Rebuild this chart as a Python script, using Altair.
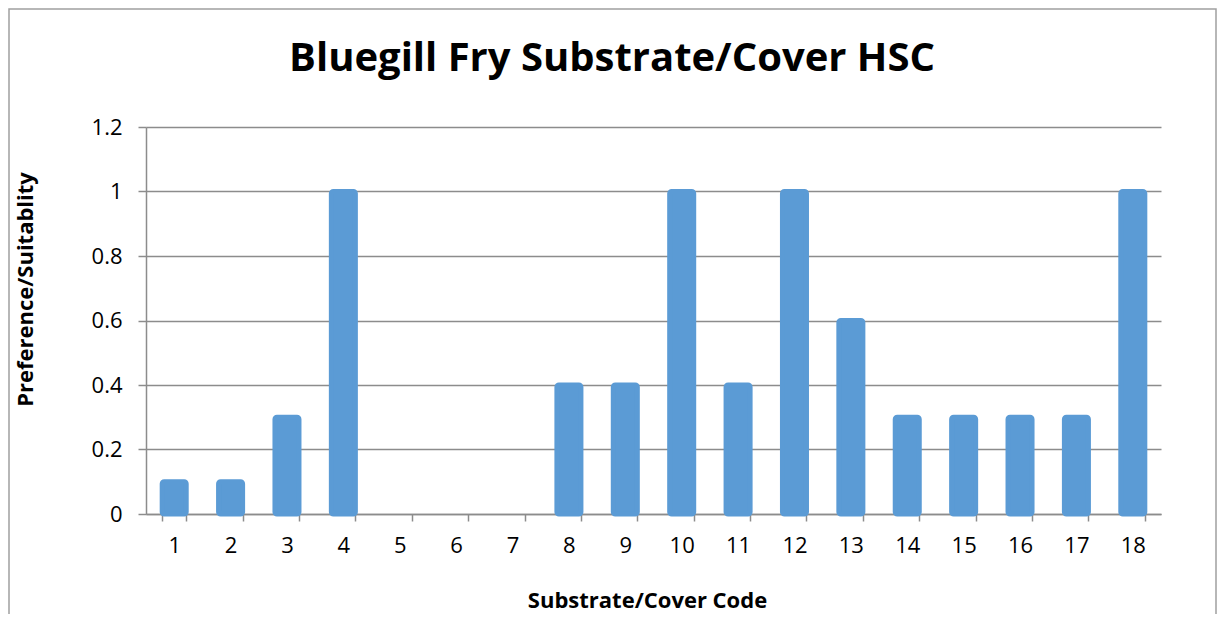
import altair as alt
import pandas as pd

codes = [str(i) for i in range(1, 19)]
values = [0.1, 0.1, 0.3, 1.0, 0.0, 0.0, 0.0, 0.4, 0.4, 1.0, 0.4, 1.0, 0.6, 0.3, 0.3, 0.3, 0.3, 1.0]
y_ticks = [0, 0.2, 0.4, 0.6, 0.8, 1.0, 1.2]

title_text = "Bluegill Fry Substrate/Cover HSC"
x_title = "Substrate/Cover Code"
y_title = "Preference/Suitablity"

df = pd.DataFrame({"code": codes, "value": values})

FONT = "Open Sans"
GRID = "#8c8c8c"
BAR = "#5B9BD5"

bars = alt.Chart(df).transform_filter("datum.value > 0").mark_bar(
    color=BAR, stroke=BAR, strokeWidth=5, cornerRadius=2
).encode(
    x=alt.X(
        "code:N",
        sort=codes,
        scale=alt.Scale(domain=codes, paddingInner=0.574, paddingOuter=0.287),
        axis=alt.Axis(
            title=x_title,
            labelAngle=0,
            labelFont=FONT,
            labelFontSize=22,
            labelColor="#000000",
            labelPadding=14,
            tickBand="extent",
            tickSize=7,
            tickColor=GRID,
            domainColor=GRID,
            grid=False,
            titleFont=FONT,
            titleFontSize=22,
            titleFontWeight="bold",
            titleColor="#000000",
            titleX=501,
            titleY=86,
            titleBaseline="middle",
            titleAlign="center",
        ),
    ),
    y=alt.Y(
        "value:Q",
        scale=alt.Scale(domain=[0, 1.2], nice=False),
        axis=alt.Axis(
            title=y_title,
            values=y_ticks,
            format="~g",
            labelFont=FONT,
            labelFontSize=22,
            labelColor="#000000",
            labelPadding=16,
            tickSize=8,
            tickColor=GRID,
            domainColor=GRID,
            grid=True,
            gridColor=GRID,
            titleFont=FONT,
            titleFontSize=22,
            titleFontWeight="bold",
            titleColor="#000000",
            titleAngle=270,
            titleX=-121,
            titleY=162,
            titleBaseline="middle",
            titleAlign="center",
        ),
    ),
)

one = pd.DataFrame({"t": [title_text]})

frame = alt.Chart(one).mark_rect(
    fill=None, stroke="#a0a0a0", strokeWidth=1.5
).encode(
    x=alt.value(-137), x2=alt.value(1070), y=alt.value(-118), y2=alt.value(495)
)

title = alt.Chart(one).mark_text(
    font=FONT, fontSize=40, fontWeight="bold", color="#000000",
    align="center", baseline="alphabetic"
).encode(
    x=alt.value(466), y=alt.value(-56), text="t:N"
)

chart = alt.layer(frame, bars, title).properties(
    width=1015,
    height=387,
    autosize=alt.AutoSizeParams(type="none"),
    padding={"left": 138, "top": 119, "right": 56, "bottom": 100},
).configure_view(stroke=None).configure_axis(domainWidth=1.5, tickWidth=1.5, gridWidth=1.5)

chart.save("out.html", embed_options={"renderer": "svg", "actions": False})
